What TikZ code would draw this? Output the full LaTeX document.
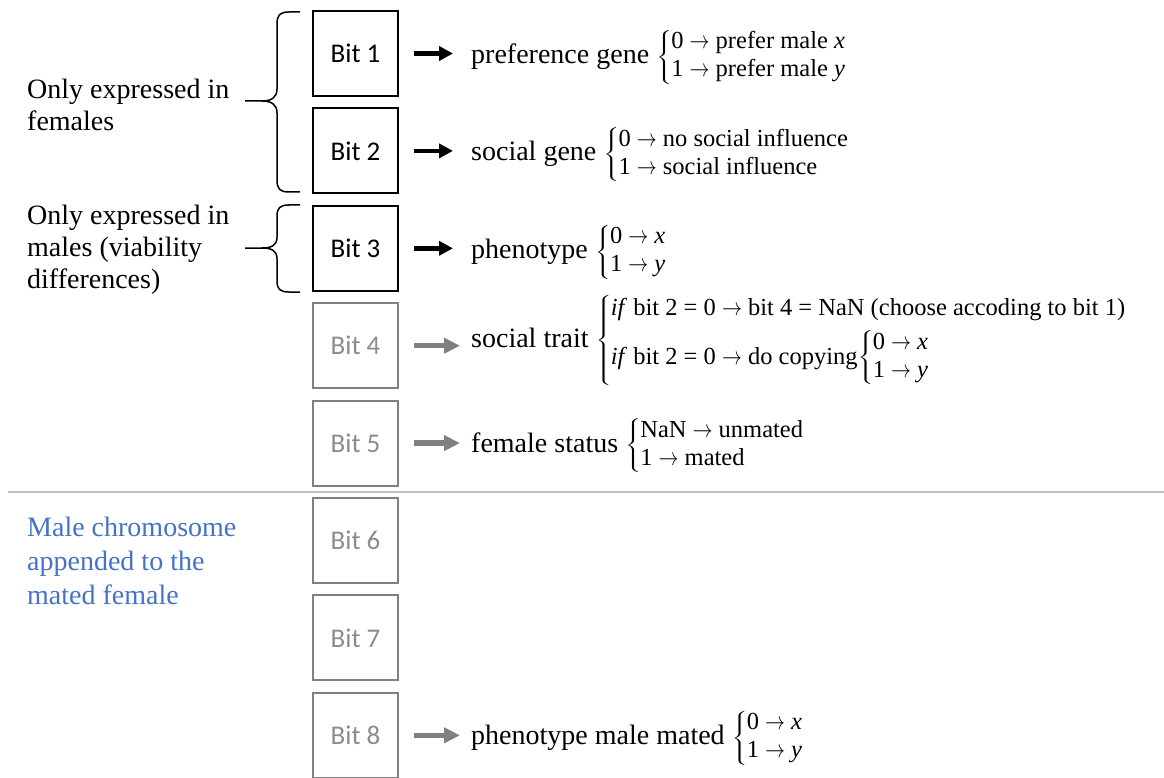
\documentclass[tikz,border=0pt]{standalone}
\usepackage{graphicx}
\usepackage{fontspec}
\setmainfont{Liberation Serif}
\newfontfamily\bitfont{Carlito}
\usetikzlibrary{arrows.meta}
\usetikzlibrary{calc}
\definecolor{boxGray}{RGB}{128,128,128}
\definecolor{textGray}{RGB}{140,140,140}
\definecolor{ruleGray}{RGB}{191,191,191}
\definecolor{maleBlue}{RGB}{68,114,196}
\tikzset{bitbox/.style={draw,line width=2pt,minimum width=85pt,minimum height=85pt,inner sep=0pt,font=\bitfont\fontsize{27}{32}\selectfont}}
\tikzset{offbox/.style={bitbox,draw=boxGray,text=textGray}}
\tikzset{gene/.style={anchor=base west,inner sep=0pt,font=\fontsize{28}{32}\selectfont}}
\tikzset{side/.style={anchor=north west,align=left,inner sep=0pt,font=\fontsize{28}{32}\selectfont}}
\tikzset{onarrow/.style={-{Triangle[length=14pt,width=14pt]},line width=4.5pt,shorten <=15pt,shorten >=18pt}}
\tikzset{offarrow/.style={-{Triangle[length=16pt,width=15pt]},line width=5.5pt,draw=boxGray,shorten <=15pt,shorten >=11pt}}
\tikzset{brace/.style={line width=1.5pt}}
\newcommand{\goes}{\ \scalebox{0.8}[1]{$\rightarrow$}\ }
\newcommand{\choice}[1]{\scalebox{1.8}[1]{$\left\{\vphantom{\begin{tabular}{@{}l@{}}#1\end{tabular}}\right.$}\hspace{-3pt}\begin{tabular}{@{}l@{}}#1\end{tabular}}
\newcommand{\opts}[1]{\fontsize{24.5}{28}\selectfont\choice{#1}}

\begin{document}
\begin{tikzpicture}[x=1pt,y=-1pt]
\useasboundingbox (0,0) rectangle (1164,778);

\node (b1) at (355.5,53.5) [bitbox] {Bit 1};
\node (b2) at (355.5,150.9) [bitbox] {Bit 2};
\node (b3) at (355.5,248.3) [bitbox] {Bit 3};
\node (b4) at (355.5,345.7) [offbox] {Bit 4};
\node (b5) at (355.5,443.1) [offbox] {Bit 5};
\node (b6) at (355.5,540.5) [offbox] {Bit 6};
\node (b7) at (355.5,637.9) [offbox] {Bit 7};
\node (b8) at (355.5,735.3) [offbox] {Bit 8};

\node (g1) at (471,63.5) [gene] {preference gene \opts{0\goes prefer male \textit{x}\\1\goes prefer male \textit{y}}};
\node (g2) at (471,161) [gene] {social gene \opts{0\goes no social influence\\1\goes social influence}};
\node (g3) at (471,258.5) [gene] {phenotype \opts{0\goes \textit{x}\\1\goes \textit{y}}};
\node (g4) at (471,347) [gene] {social trait \opts{\textit{if} bit 2 = 0\goes bit 4 = NaN (choose accoding to bit 1)\\[6pt]
  \textit{if} bit 2 = 0\goes do copying\choice{0\goes \textit{x}\\1\goes \textit{y}}}};
\node (g5) at (471,452) [gene] {female status \opts{NaN\goes unmated\\1\goes mated}};
\node (g8) at (471,744.5) [gene] {phenotype male mated \opts{0\goes \textit{x}\\1\goes \textit{y}}};

\draw [onarrow] (b1.east) -- (b1.east -| g1.west);
\draw [onarrow] (b2.east) -- (b2.east -| g2.west);
\draw [onarrow] (b3.east) -- (b3.east -| g3.west);
\draw [offarrow] (b4.east) -- (b4.east -| g4.west);
\draw [offarrow] (b5.east) -- (b5.east -| g5.west);
\draw [offarrow] (b8.east) -- (b8.east -| g8.west);

\node (fem) at (27,79) [side] {Only expressed in\\females};
\node (mal) at (27,205) [side] {Only expressed in\\males (viability\\differences)};
\node (app) at (27,517) [side,text=maleBlue,font=\fontsize{28}{34}\selectfont] {Male chromosome\\appended to the\\mated female};

% braces
\draw [brace] (300,12) -- (289,12) .. controls (280,12) and (277,15) .. (277,24) -- (277,89) .. controls (277,97) and (272,101) .. (262,101) -- (245,101);
\draw [brace] (262,101) .. controls (272,101) and (277,105) .. (277,113) -- (277,180) .. controls (277,189) and (280,192) .. (289,192) -- (300,192);
\draw [brace] (300,205) -- (289,205) .. controls (280,205) and (277,208) .. (277,216) -- (277,237) .. controls (277,245) and (272,248) .. (262,248) -- (245,248);
\draw [brace] (262,248) .. controls (272,248) and (277,251) .. (277,259) -- (277,281) .. controls (277,289) and (280,292) .. (289,292) -- (300,292);

\draw [ruleGray,line width=2pt] (8,492) -- (1164,492);

\end{tikzpicture}
\end{document}
